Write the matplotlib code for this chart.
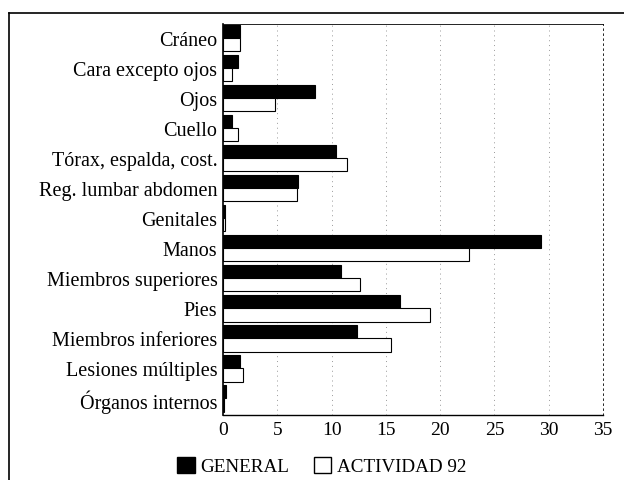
import numpy as np
import matplotlib
matplotlib.use("Agg")
import matplotlib.pyplot as plt
from matplotlib.patches import Patch
from matplotlib.lines import Line2D

categories = ["Cráneo", "Cara excepto ojos", "Ojos", "Cuello",
              "Tórax, espalda, cost.", "Reg. lumbar abdomen", "Genitales",
              "Manos", "Miembros superiores", "Pies", "Miembros inferiores",
              "Lesiones múltiples", "Órganos internos"]
general = [1.6, 1.4, 8.5, 0.8, 10.4, 6.9, 0.2, 29.3, 10.9, 16.3, 12.3, 1.6, 0.3]
actividad = [1.6, 0.8, 4.8, 1.4, 11.4, 6.8, 0.2, 22.7, 12.6, 19.1, 15.5, 1.8, 0.1]
xticks = [0, 5, 10, 15, 20, 25, 30, 35]

plt.rcParams['font.family'] = ['Liberation Serif', 'DejaVu Serif']

W, H = 624, 481
fig = plt.figure(figsize=(W/100, H/100), dpi=100)
ax = fig.add_axes([223/W, 1-416/H, (603-223)/W, (416-25)/H])

y = np.arange(len(categories))
h = 0.44
ax.barh(y - h/2, general, height=h, color="black", edgecolor="black", lw=0.8)
ax.barh(y + h/2, actividad, height=h, color="white", edgecolor="black", lw=0.8)

ax.set_ylim(len(categories) - 0.45, -0.46)
ax.set_xlim(0, 35)
ax.set_xticks(xticks)
ax.set_xticklabels([str(t) for t in xticks], fontsize=14)
ax.set_yticks(y)
ax.set_yticklabels(categories, fontsize=14.5)
ax.tick_params(axis="y", length=0, pad=4)
ax.tick_params(axis="x", length=0, pad=4)

for t in xticks[1:-1]:
    ax.axvline(t, color="#999999", lw=0.7, ls=(0, (1, 4)), zorder=0)

ax.spines["left"].set_linewidth(1.2)
ax.spines["bottom"].set_linewidth(1.0)
ax.spines["top"].set_linewidth(0.6)
ax.spines["right"].set_linestyle((0, (2, 4)))
ax.spines["right"].set_linewidth(0.6)

handles = [Patch(facecolor="black", edgecolor="black"),
           Patch(facecolor="white", edgecolor="black")]
fig.legend(handles, ["GENERAL", "ACTIVIDAD 92"], loc="center",
           bbox_to_anchor=(322/W, 1-467/H), ncol=2, frameon=False,
           fontsize=13.8, handlelength=0.9, handleheight=0.9,
           handletextpad=0.3, columnspacing=1.3)

# outer frame of the scanned figure
fig.add_artist(Line2D([9/W, 9/W], [1-14/H, 0],
                      transform=fig.transFigure, color="black", lw=1.2))
fig.add_artist(Line2D([9/W, 1], [1-14/H, 1-14/H],
                      transform=fig.transFigure, color="black", lw=1.2))

fig.savefig("out.png", dpi=100)
